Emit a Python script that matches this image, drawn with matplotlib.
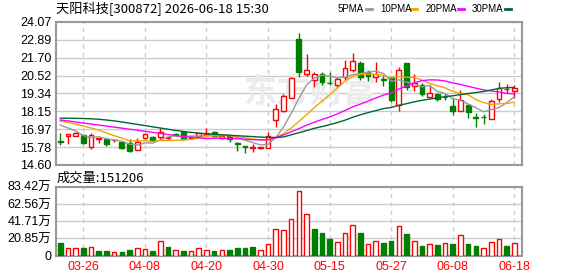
import numpy as np
import pandas as pd
import matplotlib
matplotlib.use('Agg')
from matplotlib import pyplot as plt
from matplotlib.lines import Line2D

plt.rcParams['font.family'] = ['Liberation Sans', 'Noto Sans CJK SC', 'DejaVu Sans']

# ------------ data
dates = ['03-23', '03-24', '03-25', '03-26', '03-27', '03-30', '03-31', '04-01', '04-02', '04-03',
         '04-07', '04-08', '04-09', '04-10', '04-13', '04-14', '04-15', '04-16', '04-17', '04-20',
         '04-21', '04-22', '04-23', '04-24', '04-27', '04-28', '04-29', '04-30', '05-06', '05-07',
         '05-08', '05-11', '05-12', '05-13', '05-14', '05-15', '05-18', '05-19', '05-20', '05-21',
         '05-22', '05-25', '05-26', '05-27', '05-28', '05-29', '06-01', '06-02', '06-03', '06-04',
         '06-05', '06-08', '06-09', '06-10', '06-11', '06-12', '06-15', '06-16', '06-17', '06-18']
opens = [16.16, 16.55, 16.52, 16.56, 15.81, 16.32, 16.30, 16.24, 16.14, 16.07,
         15.57, 16.40, 16.47, 16.43, 16.38, 16.65, 16.80, 16.42, 16.52, 16.63,
         16.78, 16.40, 16.52, 16.05, 15.84, 15.74, 15.70, 15.74, 17.57, 18.19,
         19.07, 22.93, 20.61, 20.22, 20.61, 20.06, 19.87, 20.40, 20.92, 21.36,
         20.75, 20.44, 20.30, 20.40, 18.57, 21.36, 19.82, 19.89, 19.11, 19.29,
         19.13, 18.50, 18.19, 18.57, 17.75, 17.78, 17.62, 18.96, 19.60, 19.51]
closes = [16.12, 16.63, 16.70, 16.07, 16.58, 16.39, 15.97, 16.26, 15.74, 15.53,
          16.12, 16.65, 16.23, 16.76, 16.47, 16.60, 16.30, 16.48, 16.70, 16.73,
          16.52, 16.55, 16.34, 16.00, 15.78, 15.76, 15.78, 16.52, 18.28, 19.16,
          20.33, 20.77, 20.92, 20.61, 20.11, 20.02, 20.28, 21.03, 21.50, 20.44,
          20.50, 20.61, 20.26, 18.90, 20.92, 19.74, 20.04, 19.29, 19.34, 18.96,
          19.08, 18.19, 18.90, 18.08, 17.71, 17.75, 18.83, 19.67, 19.64, 19.71]
highs = [16.70, 16.65, 16.80, 16.63, 16.73, 16.40, 16.37, 16.32, 16.21, 16.32,
         16.37, 16.70, 16.52, 17.03, 16.52, 16.73, 16.85, 16.55, 16.73, 17.03,
         16.82, 16.58, 16.55, 16.14, 15.86, 15.97, 15.82, 16.80, 18.63, 19.29,
         20.44, 23.34, 21.94, 20.77, 20.77, 20.77, 20.44, 21.54, 22.05, 21.47,
         20.88, 21.43, 20.48, 20.44, 21.10, 21.36, 20.61, 20.04, 19.89, 19.34,
         19.29, 19.01, 19.56, 18.63, 18.02, 17.97, 18.94, 20.11, 19.95, 19.89]
lows = [15.92, 15.97, 16.52, 15.97, 15.66, 16.03, 15.88, 16.15, 15.67, 15.48,
        15.57, 16.32, 16.14, 16.32, 16.30, 16.52, 16.25, 16.38, 16.47, 16.58,
        16.47, 16.30, 16.14, 15.53, 15.41, 15.48, 15.64, 15.74, 17.13, 18.12,
        19.01, 20.40, 20.48, 19.74, 19.89, 19.89, 19.74, 20.22, 20.77, 20.22,
        20.17, 20.11, 19.84, 18.78, 18.19, 19.56, 19.51, 19.16, 19.07, 18.85,
        18.90, 17.90, 18.19, 17.69, 17.13, 17.31, 17.62, 18.78, 19.34, 19.01]
# volume in 万
volumes = [15.7, 9.3, 9.3, 9.7, 10.5, 6.0, 6.0, 4.4, 4.8, 7.3,
           9.3, 8.0, 6.0, 17.7, 10.9, 6.9, 6.0, 5.6, 9.3, 6.9,
           6.0, 6.9, 7.3, 9.7, 9.7, 10.5, 7.3, 14.5, 32.2, 31.0,
           44.3, 77.9, 50.4, 32.6, 27.8, 20.6, 16.5, 27.4, 37.1, 27.8,
           14.1, 17.7, 15.7, 18.1, 35.9, 26.6, 17.7, 12.1, 14.1, 13.3,
           15.3, 14.5, 25.0, 14.5, 12.1, 9.3, 16.5, 20.1, 12.1, 15.1206]
# moving averages before enough closes exist on the chart
ma5_head = [17.24, 17.05, 16.85, 16.55]
ma10_head = [17.51, 17.42, 17.31, 17.18, 17.05, 16.91, 16.72, 16.55, 16.38]
ma20_head = [17.58, 17.52, 17.45, 17.38, 17.31, 17.24, 17.18, 17.11, 17.04, 16.97,
             16.90, 16.83, 16.76, 16.69, 16.62, 16.55, 16.49, 16.44, 16.40]
ma30_head = [17.70, 17.70, 17.69, 17.68, 17.66, 17.63, 17.58, 17.52, 17.45, 17.37,
             17.29, 17.21, 17.13, 17.05, 16.97, 16.89, 16.82, 16.76, 16.71, 16.67,
             16.63, 16.60, 16.57, 16.54, 16.51, 16.48, 16.45, 16.43, 16.42]
price_ticks = [14.60, 15.78, 16.97, 18.15, 19.34, 20.52, 21.70, 22.89, 24.07]
vol_ticks = [0, 20.85, 41.71, 62.56, 83.42]
vol_tick_labels = ['0', '20.85万', '41.71万', '62.56万', '83.42万']
ma_names = ['5PMA', '10PMA', '20PMA', '30PMA']

RED = '#ff0000'
GREEN = '#008000'
GRID = '#cccccc'
FRAME = '#999999'

x = np.arange(len(dates))
o = np.array(opens); c = np.array(closes); h = np.array(highs); l = np.array(lows)
up = c >= o
vol_up = np.r_[False, c[1:] > c[:-1]]

def moving_avg(n, head):
    vals = pd.Series(c).rolling(n).mean().to_numpy()
    vals[:n - 1] = head
    return vals

fig = plt.figure(figsize=(5.78, 2.76), dpi=100, facecolor='white')
W, H = 578.0, 276.0
ax = fig.add_axes([55.5 / W, 1 - 165 / H, 466.5 / W, 143 / H])
axv = fig.add_axes([55.5 / W, 1 - 255.7 / H, 466.5 / W, 69 / H])

tick_idx = list(range(3, len(dates), 8))
for a in (ax, axv):
    a.set_xlim(-0.62, 60.0)
    for s in a.spines.values():
        s.set_color(FRAME)
        s.set_linewidth(1.5)
    for t in tick_idx:
        a.axvline(t, color=GRID, lw=1, ls=(0, (3, 3)), zorder=0)
    a.tick_params(length=0, labelsize=9, pad=3)
    a.set_xticks([])

# ------------ price panel
ax.set_ylim(price_ticks[0], price_ticks[-1])
ax.set_yticks(price_ticks)
ax.set_yticklabels([f'{v:.2f}' for v in price_ticks])
for v in price_ticks[1:-1]:
    ax.axhline(v, color=GRID, lw=1, zorder=0)

ax.text(0.545, 0.50, '东方财富', transform=ax.transAxes, fontsize=24, fontweight='bold',
        color='#ebebeb', ha='center', va='center', family=['Noto Sans CJK SC'], zorder=0)

w = 0.62
for i in x:
    col = RED if up[i] else GREEN
    top, bot = max(o[i], c[i]), min(o[i], c[i])
    ax.vlines(i, top, h[i], color=col, lw=1, zorder=3)
    ax.vlines(i, l[i], bot, color=col, lw=1, zorder=3)
    ax.bar(i, max(top - bot, 0.015), bottom=bot, width=w,
           facecolor='white' if up[i] else GREEN, edgecolor=col, lw=1, zorder=4)

ma_colors = ['#999999', '#f5a300', '#ff00ff', '#006633']
for n, head, col in zip([5, 10, 20, 30], [ma5_head, ma10_head, ma20_head, ma30_head], ma_colors):
    ax.plot(x, moving_avg(n, head), color=col, lw=1, zorder=5)

# ------------ volume panel
axv.set_ylim(vol_ticks[0], vol_ticks[-1])
axv.set_yticks(vol_ticks)
axv.set_yticklabels(vol_tick_labels)
for v in vol_ticks[1:-1]:
    axv.axhline(v, color=GRID, lw=1, zorder=0)
v = np.array(volumes)
axv.bar(x, v, width=0.6, facecolor=np.where(vol_up, 'white', GREEN),
        edgecolor=np.where(vol_up, RED, GREEN), lw=1, zorder=3)
for t in tick_idx:
    axv.text(t, -0.08, dates[t], transform=axv.get_xaxis_transform(), color=RED,
             fontsize=9, ha='center', va='top')

# ------------ header texts
cjk = ['Noto Sans CJK SC', 'DejaVu Sans']
fig.text(56 / W, 1 - 9 / H, '天阳科技[300872] 2026-06-18 15:30', fontsize=9.5,
         va='center', ha='left', family=cjk)
fig.text(57 / W, 1 - 178 / H, f'成交量:{int(round(volumes[-1] * 10000))}', fontsize=9.5,
         va='center', ha='left', family=cjk)

legend_x = [338, 380, 426, 472]
dash_x = [366, 411, 458, 505]
for lx, dx, name, col in zip(legend_x, dash_x, ma_names, ma_colors):
    fig.text(lx / W, 1 - 9 / H, name, fontsize=7, va='center', ha='left')
    fig.add_artist(Line2D([dx / W, (dx + 6) / W], [1 - 9 / H, 1 - 9 / H],
                          transform=fig.transFigure, color=col, lw=2))

plt.savefig('out.png', dpi=100, facecolor='white')
